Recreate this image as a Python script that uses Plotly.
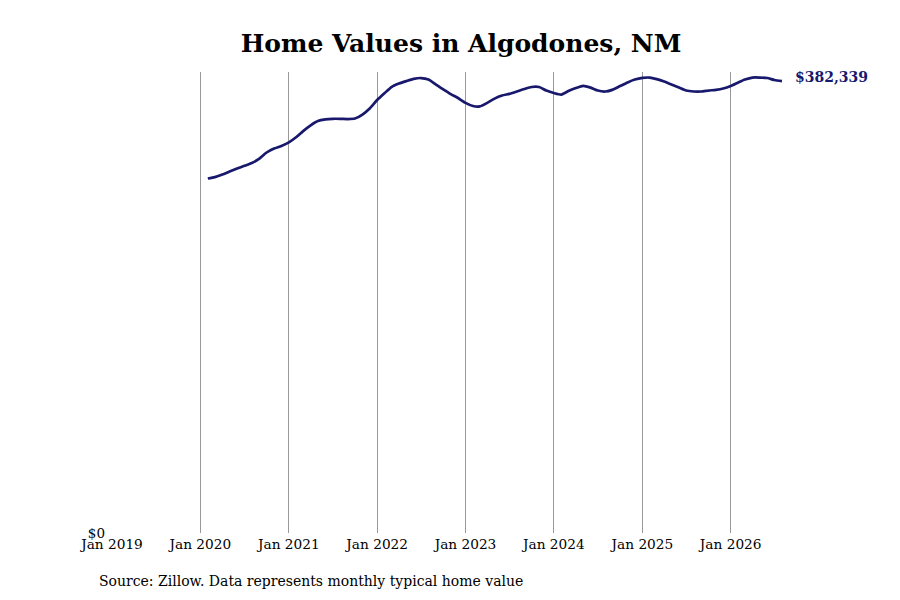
import plotly.graph_objects as go
import pandas as pd

title_text = "Home Values in Algodones, NM"
source_text = "Source: Zillow. Data represents monthly typical home value"

dates = pd.date_range("2020-02-01", "2026-08-01", freq="MS")
values = [
    299900, 301100, 303200, 305800, 308300, 310600, 313000, 316800, 321900, 325200, 327400,
    330500, 335000, 340000, 344900, 348500, 349900, 350400, 350400, 350200, 350600, 354000, 359200,
    366300, 372200, 377300, 380200, 382300, 384200, 384900, 383600, 379400, 375300, 371300, 368000,
    363900, 361200, 360900, 363900, 367500, 370100, 371500, 373500, 375600, 377300, 377300, 374300,
    372200, 370900, 373900, 376400, 378300, 376800, 374300, 373500, 375100, 378100, 381200, 383600,
    385000, 385300, 384000, 381900, 379400, 376800, 374300, 373500, 373500, 374300, 374900, 376000,
    378100, 381100, 383600, 385300, 385300, 384900, 383200, 382339,
]
tick_dates = ["2019-01-01", "2020-01-01", "2021-01-01", "2022-01-01", "2023-01-01",
              "2024-01-01", "2025-01-01", "2026-01-01"]
tick_labels = ["Jan 2019", "Jan 2020", "Jan 2021", "Jan 2022", "Jan 2023",
               "Jan 2024", "Jan 2025", "Jan 2026"]
y_ticks = [0]
y_tick_labels = ["$0"]

line_color = "#18186c"
serif = "DejaVu Serif"

# page offset of the plot div inside the browser window
OFF = 8
L, R, T, B = 112 - OFF, 900 - (782 - OFF), 72 - OFF, 600 - (533 - OFF)
PW, PH = 900 - L - R, 600 - T - B

fig = go.Figure()
fig.add_trace(go.Scatter(
    x=dates, y=values, mode="lines",
    line=dict(color=line_color, width=2.7, shape="spline", smoothing=0.6),
    hoverinfo="skip", showlegend=False,
))

fig.add_annotation(
    x=dates[-1], y=values[-1], xref="x", yref="y",
    text=f"<b>${values[-1]:,}</b>", showarrow=False,
    xanchor="left", yanchor="middle", xshift=11, yshift=4,
    font=dict(family=serif, size=14, color=line_color),
)
fig.add_annotation(
    x=(97 - OFF - L) / PW, y=-((581 - OFF) - (600 - B)) / PH,
    xref="paper", yref="paper",
    text=source_text, showarrow=False,
    xanchor="left", yanchor="middle",
    font=dict(family=serif, size=14, color="#000000"),
)

fig.update_layout(
    width=900, height=600,
    margin=dict(l=L, r=R, t=T, b=B),
    paper_bgcolor="white", plot_bgcolor="white",
    title=dict(text=f"<b>{title_text}</b>", x=(461 - OFF) / 900, xanchor="center",
               y=1 - (43 - OFF) / 600, yanchor="middle",
               font=dict(family=serif, size=25, color="#000000")),
    font=dict(family=serif, color="#000000"),
    xaxis=dict(
        range=["2019-01-01", "2026-08-01"],
        tickvals=tick_dates, ticktext=tick_labels,
        showgrid=True, gridcolor="#999999", gridwidth=1,
        showline=False, zeroline=False, ticks="",
        ticklabelstandoff=1,
        tickfont=dict(family=serif, size=13.7, color="#000000"),
    ),
    yaxis=dict(
        range=[0, 390000],
        tickvals=y_ticks, ticktext=y_tick_labels,
        showgrid=False, showline=False, zeroline=False, ticks="",
        ticklabelstandoff=6,
        tickfont=dict(family=serif, size=13.5, color="#000000"),
    ),
)

fig.write_html("out.html")
